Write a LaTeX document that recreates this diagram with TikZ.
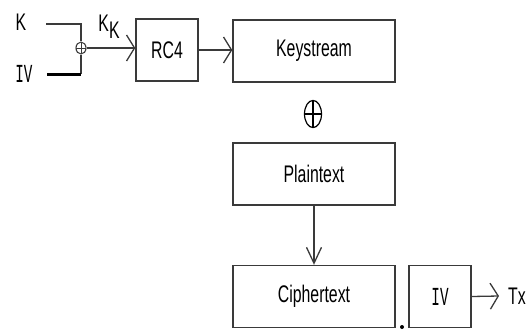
\documentclass[tikz,border=0pt]{standalone}
\usepackage{fontspec}
\setmainfont{Liberation Sans}[FakeStretch=0.66]
\newfontfamily\ivfont{Liberation Mono}[FakeStretch=0.55]
\usetikzlibrary{arrows.meta}
\definecolor{ln}{HTML}{3A3A3A}
\begin{document}
\begin{tikzpicture}[x=1pt,y=-1pt,
  box/.style={draw=ln,line width=1.4pt,inner sep=0pt,font=\fontsize{24}{24}\selectfont},
  lbl/.style={inner sep=0pt,font=\fontsize{24}{24}\selectfont},
  conn/.style={draw=ln,line width=1.3pt},
  harr/.style={conn,-{Straight Barb[length=8pt,width=26pt,line width=1.3pt]}},
  varr/.style={conn,-{Straight Barb[length=16pt,width=15pt,line width=1.3pt]}}
]
\useasboundingbox (0,0) rectangle (531,330);
% boxes
\node[box,minimum width=62pt,minimum height=62pt] (rc4) at (167,50) {RC4};
\node[box,minimum width=162pt,minimum height=62pt] (ks) at (314,51) {Keystream};
\node[box,minimum width=162pt,minimum height=62pt] (pt) at (314,174) {Plaintext};
\node[box,minimum width=162pt,minimum height=62pt] (ct) at (314,296.5) {Ciphertext};
\node[box,minimum width=62pt,minimum height=62pt,font=\ivfont\fontsize{26}{26}\selectfont] (ivb) at (440,296.5) {IV};
% xor symbols
\node[draw=ln,circle,line width=1.1pt,minimum size=10pt,inner sep=0pt,yscale=1.2,
  path picture={\draw[line width=1pt,ln] (path picture bounding box.north) -- (path picture bounding box.south)
        (path picture bounding box.west) -- (path picture bounding box.east);}] (xo1) at (81,48) {};
\node[draw=black,circle,line width=1.2pt,minimum size=17pt,inner sep=0pt,yscale=1.6,
  path picture={\draw[line width=1.2pt] (path picture bounding box.north) -- (path picture bounding box.south)
        (path picture bounding box.west) -- (path picture bounding box.east);}] (xo2) at (313,114) {};
% labels
\node[lbl] (k) at (21,22) {K};
\node[lbl,font=\ivfont\fontsize{26}{26}\selectfont] (iv) at (24,74) {IV};
\node[lbl,anchor=base] (kk) at (109,31) {K\raisebox{-7pt}{K}};
\node[lbl,anchor=west,inner xsep=9pt] (tx) at (499,296) {Tx};
% connectors
\coordinate (kend) at (46,24);
\coordinate (ivend) at (47,74);
\draw[conn] (kend) -- (kend -| xo1) -- (xo1.north);
\draw[conn] (xo1.south) -- (ivend -| xo1);
\draw[draw=black,line width=3pt] (ivend) -- (ivend -| xo1);
\draw[harr] (xo1.east) -- (xo1 -| rc4.west);
\draw[harr] (rc4.east) -- (rc4 -| ks.west);
\draw[varr] (pt.south) -- (ct.north);
\draw[harr] (ivb.east) -- (tx.west);
\fill[black] (402,327) circle (2pt);
\end{tikzpicture}
\end{document}
